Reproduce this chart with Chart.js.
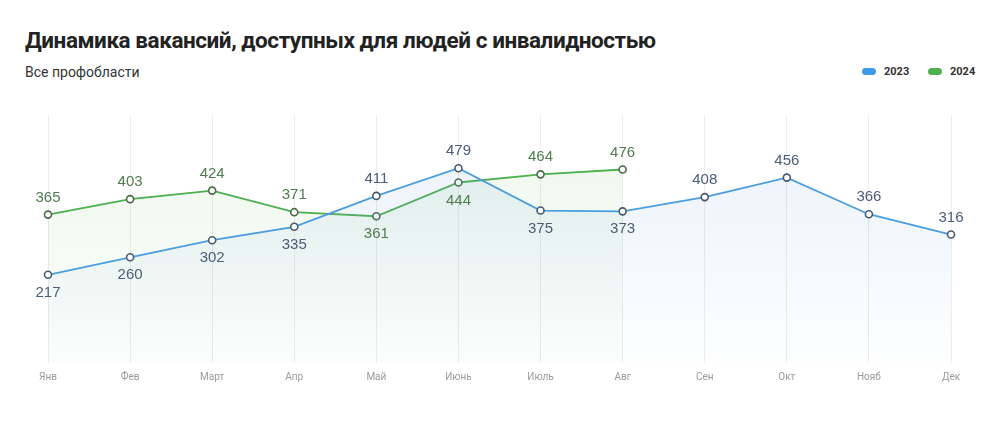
<!DOCTYPE html>
<html><head><meta charset="utf-8">
<script src="https://cdn.jsdelivr.net/npm/chart.js@4"></script>
<style>
html,body{margin:0;padding:0;background:#fff;width:1000px;height:424px;overflow:hidden;font-family:Roboto,"Noto Sans",sans-serif;}
#title{position:absolute;left:25px;top:27px;font-size:22.5px;font-weight:700;color:#222;letter-spacing:-0.45px;white-space:nowrap;}
#sub{position:absolute;left:25px;top:64px;font-size:14px;color:#333;}
#legend{position:absolute;top:65px;left:862px;font-size:11px;font-weight:700;color:#333;white-space:nowrap;}
.li{position:absolute;top:0;display:flex;align-items:center;}
.sw{width:14px;height:7px;border-radius:4px;margin-right:8px;}
#wrap{position:absolute;left:0;top:0;width:1000px;height:424px;}
</style></head><body>
<div id="title">Динамика вакансий, доступных для людей с инвалидностью</div>
<div id="sub">Все профобласти</div>
<div id="legend">
  <div class="li" style="left:0"><div class="sw" style="background:#3f9be6"></div>2023</div>
  <div class="li" style="left:66px"><div class="sw" style="background:#4db04f"></div>2024</div>
</div>
<div id="wrap"><canvas id="c" width="1000" height="424"></canvas></div>
<script>
const categories = ["Янв","Фев","Март","Апр","Май","Июнь","Июль","Авг","Сен","Окт","Нояб","Дек"];
const values2023 = [217,260,302,335,411,479,375,373,408,456,366,316];
const values2024 = [365,403,424,371,361,444,464,476,null,null,null,null];
const seriesNames = ["2023","2024"];

const labelPlugin = {
  id:'vlabels',
  afterDatasetsDraw(chart){
    const ctx = chart.ctx;
    const sets = chart.data.datasets;
    const colors = ['#4b5d78','#4f7d4f'];
    ctx.save();
    ctx.font = '15px Arial, "Liberation Sans", sans-serif';
    ctx.textAlign = 'center';
    ctx.textBaseline = 'middle';
    sets.forEach((ds, di) => {
      const meta = chart.getDatasetMeta(di);
      const other = sets[1-di].data;
      meta.data.forEach((pt, i) => {
        const v = ds.data[i];
        if (v == null) return;
        const o = other[i];
        const above = (o == null) || v >= o;
        ctx.fillStyle = colors[di];
        ctx.fillText(String(v), pt.x, above ? pt.y - 17 : pt.y + 18);
      });
    });
    ctx.restore();
  }
};

function grad(ctx, chartArea, rgb, a1, a2){
  const g = ctx.createLinearGradient(0, chartArea.top, 0, chartArea.bottom);
  g.addColorStop(0, `rgba(${rgb},${a1})`);
  g.addColorStop(1, `rgba(${rgb},${a2})`);
  return g;
}

new Chart(document.getElementById('c'), {
  type:'line',
  data:{
    labels: categories,
    datasets:[
      {label:seriesNames[0], data:values2023, borderColor:'#4a9ee0', borderWidth:1.8,
       pointRadius:3.5, pointBorderWidth:1.6, pointBackgroundColor:'#fff', pointBorderColor:'#485a70',
       tension:0, fill:'origin',
       backgroundColor:(c)=>{const a=c.chart.chartArea; if(!a) return 'rgba(0,0,0,0)'; return grad(c.chart.ctx,a,'120,170,225',0.16,0.01);}},
      {label:seriesNames[1], data:values2024, borderColor:'#4caf50', borderWidth:1.8,
       pointRadius:3.5, pointBorderWidth:1.6, pointBackgroundColor:'#fff', pointBorderColor:'#4a6a48',
       tension:0, fill:'origin', spanGaps:false,
       backgroundColor:(c)=>{const a=c.chart.chartArea; if(!a) return 'rgba(0,0,0,0)'; return grad(c.chart.ctx,a,'120,200,110',0.14,0.01);}}
    ]
  },
  options:{
    responsive:false, animation:false,
    layout:{padding:{left:48,right:49,top:115,bottom:33}},
    plugins:{legend:{display:false}, tooltip:{enabled:false}},
    scales:{
      x:{offset:false, grid:{color:'#ededed', drawTicks:false}, border:{display:false},
         ticks:{color:'#9a9a9a', font:{size:10, family:'Roboto'}, padding:8, maxRotation:0, autoSkip:false}},
      y:{display:false, min:0, max:610}
    }
  },
  plugins:[labelPlugin]
});
</script>
</body></html>
